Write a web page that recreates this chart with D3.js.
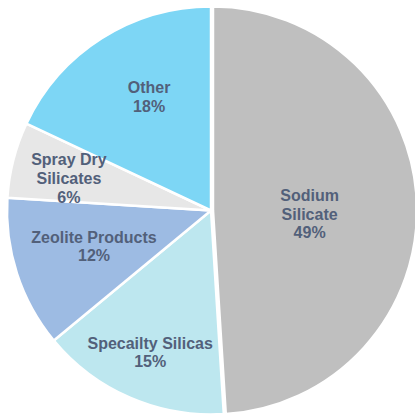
<!DOCTYPE html>
<html>
<head>
<meta charset="utf-8">
<script src="https://cdn.jsdelivr.net/npm/d3@7"></script>
<style>
  html, body { margin: 0; padding: 0; background: #ffffff; }
  svg { display: block; }
</style>
</head>
<body>
<svg id="chart" width="415" height="416"></svg>
<script>
// Segment names (label lines), shares in percent, and fill colours
const categories = [
  ["Sodium", "Silicate"],
  ["Specailty Silicas"],
  ["Zeolite Products"],
  ["Spray Dry", "Silicates"],
  ["Other"]
];
const values = [49, 15, 12, 6, 18];
const colors = ["#bfbfbf", "#bde7ef", "#9dbbe3", "#e7e7e7", "#7dd6f5"];
// Label placement: distance from the centre (fraction of radius) and a small angular nudge (degrees)
const labelRadius = [0.474, 0.757, 0.6, 0.714, 0.634];
const labelShift = [3.9, -0.2, 0.9, -1.7, 3.8];
// The largest slice is pulled out slightly
const explode = [2, 0, 0, 0, 0];

const svg = d3.select("#chart");
const cx = 211, cy = 210.5, R = 204;
const g = svg.append("g").attr("transform", `translate(${cx},${cy})`);

const pie = d3.pie().sort(null).value(d => d)(values);
const arc = d3.arc().innerRadius(0).outerRadius(R);

function offset(d, i) {
  const mid = (d.startAngle + d.endAngle) / 2;
  return [explode[i] * Math.sin(mid), -explode[i] * Math.cos(mid)];
}

// Slices first, so that every label sits on top of all of them
g.append("g").attr("class", "slices")
  .selectAll("path")
  .data(pie)
  .join("path")
  .attr("transform", (d, i) => {
    const [ox, oy] = offset(d, i);
    return `translate(${ox},${oy})`;
  })
  .attr("d", arc)
  .attr("fill", (d, i) => colors[i])
  .attr("stroke", "#ffffff")
  .attr("stroke-width", 2.5)
  .attr("stroke-linejoin", "round");

const lineH = 18.8;
g.append("g").attr("class", "labels")
  .selectAll("text")
  .data(pie)
  .join("text")
  .attr("text-anchor", "middle")
  .attr("font-family", "Liberation Sans, Arial, sans-serif")
  .attr("font-weight", "bold")
  .attr("font-size", 16)
  .attr("fill", "#52607a")
  .each(function (d, i) {
    const [ox, oy] = offset(d, i);
    const a = (d.startAngle + d.endAngle) / 2 + labelShift[i] * Math.PI / 180;
    const r = labelRadius[i] * R;
    const x = ox + r * Math.sin(a), y = oy - r * Math.cos(a);
    const lines = categories[i].concat([values[i] + "%"]);
    const top = y - (lines.length - 1) * lineH / 2;
    d3.select(this).selectAll("tspan")
      .data(lines)
      .join("tspan")
      .attr("x", x)
      .attr("y", (t, k) => top + k * lineH)
      .attr("dy", "0.35em")
      .text(t => t);
  });
</script>
</body>
</html>
